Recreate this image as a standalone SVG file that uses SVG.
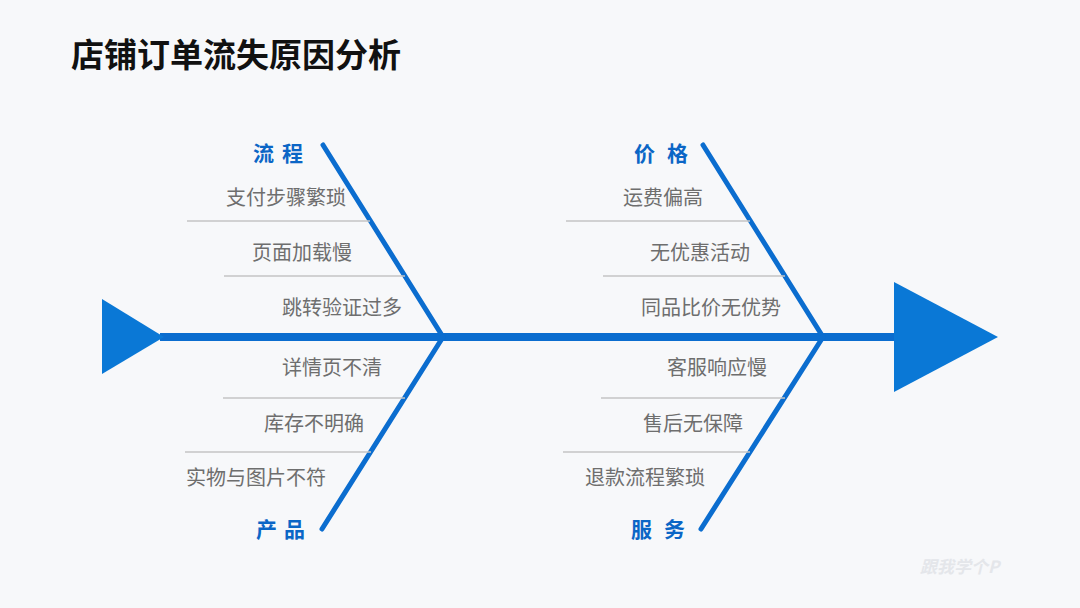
<svg xmlns="http://www.w3.org/2000/svg" width="1080" height="608" viewBox="0 0 1080 608">
<style>
  text { font-family: "Noto Sans CJK SC", "Noto Sans", sans-serif; }
  .title { font-size: 33px; font-weight: 700; fill: #111111; }
  .cat { font-size: 21px; font-weight: 700; fill: #0b66c6; }
  .item { font-size: 20px; fill: #6e6e6e; }
  .bone { stroke: #0b6dcf; stroke-width: 5; stroke-linecap: round; fill: none; }
  .sep { stroke: #c4c4c4; stroke-width: 1.5; fill: none; }
  .head { fill: #0a78d6; }
</style>
<rect width="1080" height="608" fill="#f7f8fa"/>
<text class="title" x="71" y="67">店铺订单流失原因分析</text>

<g id="connectors">
  <line x1="160" y1="337" x2="896" y2="337" stroke="#0b6dcf" stroke-width="8"/>
  <polygon class="head" points="102,299 164,337 102,374"/>
  <polygon class="head" points="894,282 998,337 894,392"/>
  <line class="bone" x1="323" y1="145" x2="443" y2="337"/>
  <line class="bone" x1="443" y1="337" x2="322" y2="529"/>
  <line class="bone" x1="703" y1="145" x2="823" y2="337"/>
  <line class="bone" x1="823" y1="337" x2="701" y2="529"/>
  <line class="sep" x1="187" y1="221" x2="370" y2="221"/>
  <line class="sep" x1="224" y1="276" x2="405" y2="276"/>
  <line class="sep" x1="223" y1="398" x2="405" y2="398"/>
  <line class="sep" x1="185" y1="452" x2="371" y2="452"/>
  <line class="sep" x1="566" y1="221" x2="750" y2="221"/>
  <line class="sep" x1="603" y1="276" x2="785" y2="276"/>
  <line class="sep" x1="601" y1="398" x2="785" y2="398"/>
  <line class="sep" x1="563" y1="452" x2="750" y2="452"/>
</g>

<g id="process">
  <text class="cat" x="253 282" y="161">流程</text>
  <text class="item" x="226" y="205">支付步骤繁琐</text>
  <text class="item" x="252" y="260">页面加载慢</text>
  <text class="item" x="282" y="315">跳转验证过多</text>
</g>
<g id="product">
  <text class="cat" x="256 284" y="537">产品</text>
  <text class="item" x="282" y="375">详情页不清</text>
  <text class="item" x="264" y="431">库存不明确</text>
  <text class="item" x="186" y="485">实物与图片不符</text>
</g>
<g id="price">
  <text class="cat" x="634 667" y="161">价格</text>
  <text class="item" x="623" y="205">运费偏高</text>
  <text class="item" x="650" y="260">无优惠活动</text>
  <text class="item" x="641" y="315">同品比价无优势</text>
</g>
<g id="service">
  <text class="cat" x="631 664" y="537">服务</text>
  <text class="item" x="667" y="375">客服响应慢</text>
  <text class="item" x="643" y="431">售后无保障</text>
  <text class="item" x="585" y="485">退款流程繁琐</text>
</g>
<text x="920" y="573" font-size="17" font-weight="700" font-style="italic" fill="#e4e6ea">跟我学个P</text>
</svg>
